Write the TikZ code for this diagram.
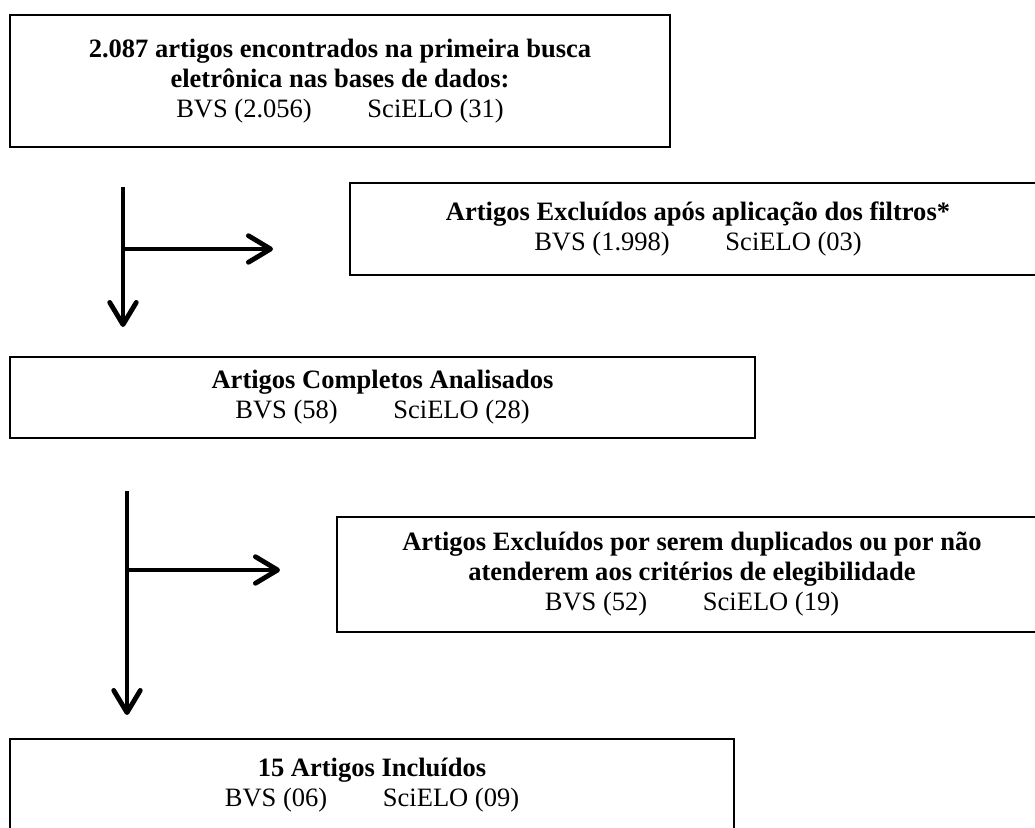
\documentclass[tikz,border=0pt]{standalone}
\usepackage{fontspec}
\setmainfont{Liberation Serif}
\usetikzlibrary{arrows.meta}
\newcommand{\px}{0.4525pt}
\newcommand{\bases}[2]{#1\hspace{2.1em}#2}

\begin{document}
\begin{tikzpicture}[x=\px, y=-\px,
		caixa/.style={draw, line width=1.1pt, inner sep=0pt, align=center, font=\fontsize{12}{13.6}\selectfont},
		seta/.style={line width=2.2pt, -{Straight Barb[length=10pt,width=12pt,round]}}]
		\useasboundingbox (0,0) rectangle (1035,828);
		\clip (0,0) rectangle (1035,828);
		\node[caixa, minimum width=660*\px, minimum height=132*\px] (busca) at (340,81)
			{\textbf{2.087 artigos encontrados na primeira busca}\\ \textbf{eletrônica nas bases de dados:}\\ \bases{BVS (2.056)}{SciELO (31)}};
		\node[caixa, minimum width=696*\px, minimum height=92*\px] (filtros) at (698,229)
			{\textbf{Artigos Excluídos após aplicação dos filtros*}\\ \bases{BVS (1.998)}{SciELO (03)}};
		\node[caixa, minimum width=745*\px, minimum height=81*\px] (completos) at (382.5,397.5)
			{\textbf{Artigos Completos Analisados}\\ \bases{BVS (58)}{SciELO (28)}};
		\node[caixa, minimum width=710*\px, minimum height=115*\px] (duplicados) at (692,574.5)
			{\textbf{Artigos Excluídos por serem duplicados ou por não}\\ \textbf{atenderem aos critérios de elegibilidade}\\ \bases{BVS (52)}{SciELO (19)}};
		\node[caixa, minimum width=724*\px, minimum height=92*\px] (incluidos) at (372,785)
			{\textbf{15 Artigos Incluídos}\\ \bases{BVS (06)}{SciELO (09)}};
		\coordinate (v1a) at (123,187);
		\coordinate (v1b) at (123,327);
		\coordinate (h1a) at (123,249);
		\coordinate (h1b) at (273,249);
		\coordinate (v2a) at (127,491);
		\coordinate (v2b) at (127,715);
		\coordinate (h2a) at (127,570);
		\coordinate (h2b) at (280,570);
		\draw[seta] (v1a)--(v1b);
		\draw[seta] (h1a)--(h1b);
		\draw[seta] (v2a)--(v2b);
		\draw[seta] (h2a)--(h2b);
	\end{tikzpicture}
\end{document}
